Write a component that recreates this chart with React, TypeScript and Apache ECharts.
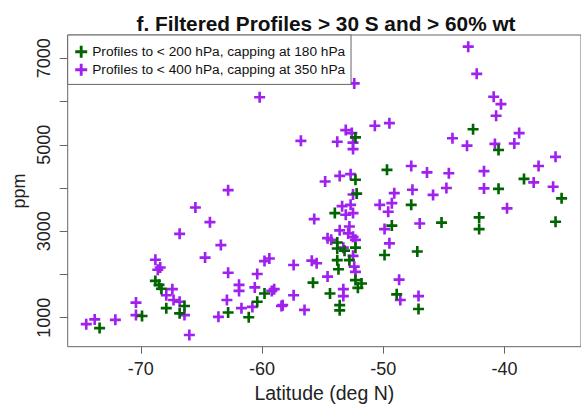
import React, { useEffect, useRef } from "react";
import * as echarts from "echarts";

const greenName = "Profiles to < 200 hPa, capping at 180 hPa";
const purpleName = "Profiles to < 400 hPa, capping at 350 hPa";

const greenLat = [
  -73.4, -69.9, -68.8, -68.5, -68.3, -67.9, -66.8, -66.4, -62.8, -61.1, -60.4, -59.8,
  -55.8, -42.6, -40.5, -52.3, -38.4, -35.3, -49.7, -40.5, -47.7, -52.3, -52.2, -35.8,
  -42.1, -42.1, -45.2, -49.3, -49.9, -47.2, -48.9, -47.1, -54.0, -53.8, -53.8, -53.2,
  -52.3, -52.8, -53.8, -53.7, -52.3, -51.8, -52.1, -54.4, -53.6, -53.6,
];
const greenPpm = [
  760, 1040, 1850, 1760, 1670, 1220, 1100, 1270, 1120, 1010, 1370, 1560,
  1810, 5360, 4880, 5170, 4210, 3760, 4420, 3980, 3610, 4190, 3870, 3220,
  3320, 3050, 3200, 3130, 2450, 2530, 1540, 1200, 3420, 2740, 2600, 2550,
  2620, 2330, 2330, 2120, 1870, 1790, 1690, 1560, 1290, 1170,
];

const purpleLat = [
  -74.5, -73.8, -72.1, -70.4, -70.4, -68.8, -68.6, -68.4, -67.4, -67.9, -67.3, -66.8,
  -66.4, -66.0, -65.5, -66.8, -64.3, -63.4, -64.7, -62.8, -61.9, -61.9, -62.9, -63.6,
  -61.7, -60.6, -60.4, -60.8, -59.8, -59.4, -59.2, -59.0, -58.4, -57.4, -57.4, -56.5,
  -55.9, -55.5, -55.7, -60.2, -56.8, -62.8, -43.0, -42.3, -52.4, -40.9, -40.3, -40.7,
  -38.8, -39.2, -40.8, -44.3, -43.1, -50.7, -49.5, -53.8, -53.1, -52.6, -52.5, -52.5,
  -35.8, -37.2, -37.6, -36.0, -47.7, -46.4, -44.6, -41.7, -41.7, -39.8, -54.8, -53.6,
  -52.7, -52.5, -53.4, -52.7, -49.1, -47.6, -45.9, -44.8, -50.3, -49.3, -49.6, -47.0,
  -49.9, -49.5, -48.7, -48.6, -47.1, -53.1, -52.5, -53.6, -52.8, -52.9, -54.6, -54.3,
  -52.5, -52.3, -53.3, -52.5, -52.4, -52.3, -54.6, -53.3, -53.3, -58.3,
];
const purplePpm = [
  850, 960, 950, 1350, 1060, 2340, 2110, 2160, 1660, 1520, 1410, 1370,
  1060, 600, 3550, 2940, 3210, 2680, 2390, 2040, 1760, 1620, 1410, 1020,
  1220, 1700, 2010, 1250, 2310, 2370, 1620, 1660, 1270, 2220, 1520, 1180,
  2320, 2260, 3280, 6100, 5090, 3950, 7270, 6640, 6420, 6110, 5940, 5670,
  5270, 5030, 5020, 5150, 4980, 5440, 5500, 5070, 5340, 5270, 5050, 4900,
  4720, 4510, 4130, 4030, 4510, 4360, 4340, 4390, 3990, 3530, 4150, 4280,
  4320, 3850, 3580, 3610, 3880, 3960, 3840, 4000, 3610, 3650, 3450, 3180,
  3050, 2720, 1880, 1410, 1500, 3380, 3420, 3020, 3110, 2950, 2840, 2800,
  2870, 2800, 2620, 2430, 2180, 2060, 1950, 1660, 1500, 1290,
];

const xTicks = [-70, -60, -50, -40];
const yTicks = [1000, 2000, 3000, 4000, 5000, 6000, 7000];
const yLabels = [1000, 3000, 5000, 7000];

const titleText = "f. Filtered Profiles > 30 S and > 60% wt";
const xName = "Latitude (deg N)";
const yName = "ppm";

const PLUS =
  "path://M3.8,0L6.2,0L6.2,3.8L10,3.8L10,6.2L6.2,6.2L6.2,10L3.8,10L3.8,6.2L0,6.2L0,3.8L3.8,3.8Z";
const FONT = "'Liberation Sans', Arial, Helvetica, sans-serif";
const GREEN = "#006400";
const PURPLE = "#A020F0";

export default function App() {
  const ref = useRef<HTMLDivElement>(null);
  useEffect(() => {
    if (!ref.current) return;
    const chart = echarts.init(ref.current, undefined, { renderer: "svg" });
    const zip = (a: number[], b: number[]) => a.map((v, i) => [v, b[i]]);
    chart.setOption({
      animation: false,
      backgroundColor: "#fff",
      textStyle: { fontFamily: FONT },
      grid: {
        show: true,
        left: 67.7,
        top: 35,
        right: -4,
        bottom: 63.3,
        borderColor: "#666",
        borderWidth: 1,
        backgroundColor: "transparent",
      },
      legend: {
        orient: "vertical",
        left: 67.7,
        top: 35,
        padding: [9.7, 5.8, 7.7, 7.5],
        itemGap: 4,
        itemWidth: 12,
        itemHeight: 12,
        borderColor: "#666",
        borderWidth: 1,
        borderRadius: 0,
        backgroundColor: "#fff",
        textStyle: { fontSize: 13.7, color: "#111", fontFamily: FONT },
        data: [
          { name: greenName, icon: PLUS, itemStyle: { color: GREEN, opacity: 1 } },
          { name: purpleName, icon: PLUS, itemStyle: { color: PURPLE, opacity: 1 } },
        ],
      },
      graphic: [
        {
          type: "text",
          x: 326,
          y: 23,
          style: {
            text: titleText,
            font: `bold 20.8px ${FONT}`,
            fill: "#111",
            textAlign: "center",
            textVerticalAlign: "middle",
          },
        },
        {
          type: "text",
          x: 19,
          y: 191,
          rotation: Math.PI / 2,
          style: {
            text: yName,
            font: `18px ${FONT}`,
            fill: "#222",
            textAlign: "center",
            textVerticalAlign: "middle",
          },
        },
      ],
      xAxis: {
        type: "value",
        min: -76.03,
        max: -33.7,
        axisLine: { show: false },
        splitLine: { show: false },
        axisTick: {
          show: true,
          length: 7,
          customValues: xTicks,
          lineStyle: { color: "#666" },
        },
        axisLabel: {
          customValues: xTicks,
          margin: 13,
          fontSize: 18,
          color: "#222",
          fontFamily: FONT,
          formatter: (v: number) => String(v),
        },
        name: xName,
        nameLocation: "middle",
        nameGap: 35,
        nameTextStyle: { fontSize: 19.5, color: "#222", fontFamily: FONT },
      },
      yAxis: {
        type: "value",
        min: 329,
        max: 7539,
        axisLine: { show: false },
        splitLine: { show: false },
        axisTick: {
          show: true,
          length: 8,
          customValues: yTicks,
          lineStyle: { color: "#666" },
        },
        axisLabel: {
          customValues: yLabels,
          rotate: 90,
          margin: 15,
          fontSize: 18,
          color: "#222",
          fontFamily: FONT,
          formatter: (v: number) => String(v),
        },
      },
      series: [
        {
          name: purpleName,
          type: "scatter",
          symbol: PLUS,
          symbolSize: 11,
          itemStyle: { color: PURPLE, opacity: 1 },
          data: zip(purpleLat, purplePpm),
          z: 2,
        },
        {
          name: greenName,
          type: "scatter",
          symbol: PLUS,
          symbolSize: 11,
          itemStyle: { color: GREEN, opacity: 1 },
          data: zip(greenLat, greenPpm),
          z: 3,
        },
      ],
    });
    return () => chart.dispose();
  }, []);
  return (
    <div
      ref={ref}
      style={{ position: "fixed", left: 0, top: 0, width: 581, height: 410 }}
    />
  );
}
